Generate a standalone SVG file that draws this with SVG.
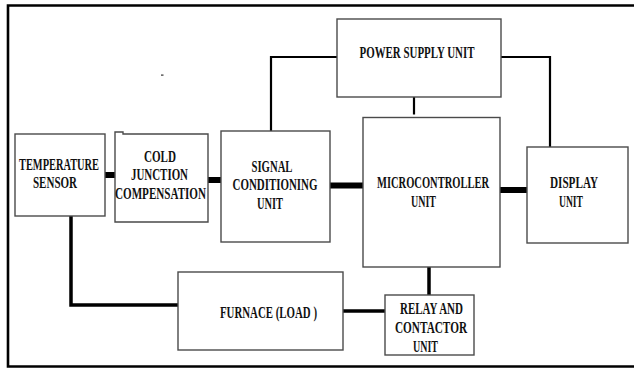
<svg xmlns="http://www.w3.org/2000/svg" width="634" height="368" viewBox="0 0 634 368">
<style>
.box{fill:#fff;stroke:#4a4a4a;stroke-width:1.4}
.w{fill:none;stroke:#000;stroke-linecap:butt}
.thin{stroke-width:2.2}
.mid{stroke-width:3.5}
.thick{stroke-width:6}
text{font-family:"Liberation Serif","Times New Roman",serif;font-weight:bold;font-size:16px;fill:#111;text-anchor:middle}
</style>
<rect width="634" height="368" fill="#fff"/>
<path class="w" d="M640,5.5 H8 V366.5 H640" stroke-width="2.6"/>
<rect x="161" y="74.5" width="2.5" height="1.2" fill="#333"/>
<g id="connectors">
<path class="w thick" d="M105,175 H115"/>
<path class="w thick" d="M208,180 H221"/>
<path class="w thick" d="M330,185.5 H363"/>
<path class="w thick" d="M500,190 H527"/>
<path class="w thin" d="M337,57 H271 V131"/>
<path class="w thin" d="M501,57 H550 V147"/>
<path class="w thin" d="M414,97 V114.5"/>
<path class="w mid" d="M429,267 V295"/>
<path class="w mid" d="M343,311 H385"/>
<path class="w mid" d="M71,216 V305 H178"/>
</g>
<g id="temperature-sensor">
<rect class="box" x="15" y="134" width="90" height="82"/>
<text x="59" y="170" textLength="80" lengthAdjust="spacingAndGlyphs">TEMPERATURE</text>
<text x="55" y="188" textLength="44" lengthAdjust="spacingAndGlyphs">SENSOR</text>
</g>
<g id="cold-junction">
<path class="box" d="M115,222 V132 H123 V134 H208 V222 Z"/>
<text x="160" y="162" textLength="32" lengthAdjust="spacingAndGlyphs">COLD</text>
<text x="159.5" y="180" textLength="57" lengthAdjust="spacingAndGlyphs">JUNCTION</text>
<text x="160.5" y="199" textLength="91" lengthAdjust="spacingAndGlyphs">COMPENSATION</text>
</g>
<g id="signal-conditioning">
<rect class="box" x="221" y="131" width="109" height="111"/>
<text x="272" y="172" textLength="41" lengthAdjust="spacingAndGlyphs">SIGNAL</text>
<text x="275" y="190" textLength="85" lengthAdjust="spacingAndGlyphs">CONDITIONING</text>
<text x="270" y="209" textLength="26" lengthAdjust="spacingAndGlyphs">UNIT</text>
</g>
<g id="power-supply">
<rect class="box" x="337" y="19" width="164" height="78"/>
<text x="417" y="58" textLength="115" lengthAdjust="spacingAndGlyphs">POWER SUPPLY UNIT</text>
</g>
<g id="microcontroller">
<rect class="box" x="363" y="117.5" width="137" height="149.5"/>
<text x="433" y="188" textLength="112" lengthAdjust="spacingAndGlyphs">MICROCONTROLLER</text>
<text x="423.5" y="207" textLength="25" lengthAdjust="spacingAndGlyphs">UNIT</text>
</g>
<g id="display">
<rect class="box" x="527" y="147" width="101" height="96"/>
<text x="574" y="188" textLength="48" lengthAdjust="spacingAndGlyphs">DISPLAY</text>
<text x="571" y="207" textLength="24" lengthAdjust="spacingAndGlyphs">UNIT</text>
</g>
<g id="furnace">
<rect class="box" x="178" y="272" width="165" height="78"/>
<text x="268.5" y="318" textLength="97" lengthAdjust="spacingAndGlyphs">FURNACE (LOAD )</text>
</g>
<g id="relay">
<rect class="box" x="385" y="295" width="89" height="60"/>
<text x="431.5" y="314" textLength="63" lengthAdjust="spacingAndGlyphs">RELAY AND</text>
<text x="431" y="333" textLength="72" lengthAdjust="spacingAndGlyphs">CONTACTOR</text>
<text x="425.5" y="352" textLength="25" lengthAdjust="spacingAndGlyphs">UNIT</text>
</g>
</svg>
